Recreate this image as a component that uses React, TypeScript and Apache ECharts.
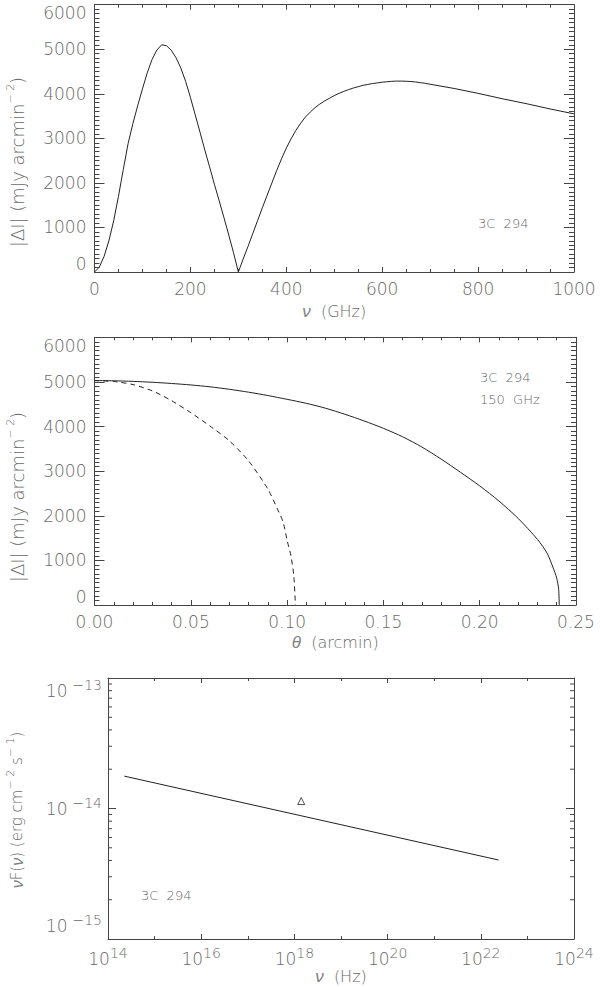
import React, { useEffect, useRef } from "react";
import * as echarts from "echarts";

// ---- Panel 1: |ΔI| vs ν (GHz) ----
const nuGHz = [0,10,20,30,40,50,60,70,80,90,100,110,120,130,140,150,160,170,180,190,200,210,220,230,240,250,260,270,280,290,300,310,320,330,340,350,360,370,380,390,400,410,420,430,440,450,460,470,480,490,500,510,520,530,540,550,560,570,580,590,600,610,620,630,640,650,660,670,680,690,700,750,800,850,900,950,1000];
const dINu = [0,110,350,700,1150,1700,2300,2880,3330,3730,4110,4470,4770,4980,5100,5080,4980,4810,4580,4280,3920,3530,3140,2740,2360,1970,1600,1220,830,430,0,290,570,860,1150,1440,1720,2000,2280,2540,2780,2990,3180,3340,3480,3590,3690,3770,3840,3900,3960,4010,4055,4095,4130,4160,4190,4210,4230,4245,4260,4270,4280,4285,4285,4282,4275,4265,4250,4235,4215,4120,4010,3890,3780,3660,3550];

// ---- Panel 2: |ΔI| vs θ (arcmin) at 150 GHz ----
const thetaSolid = [0,0.01,0.02,0.03,0.04,0.05,0.06,0.07,0.08,0.09,0.10,0.11,0.12,0.13,0.14,0.15,0.16,0.17,0.18,0.19,0.20,0.21,0.22,0.23,0.235,0.238,0.240,0.241,0.2413];
const dISolid = [5030,5025,5012,4992,4965,4932,4890,4835,4770,4695,4610,4520,4410,4275,4125,3960,3770,3540,3270,2975,2670,2330,1940,1470,1160,850,600,350,0];
const thetaDashed = [0,0.01,0.02,0.03,0.04,0.05,0.06,0.07,0.08,0.09,0.095,0.098,0.10,0.102,0.1035,0.1043];
const dIDashed = [5030,5010,4940,4800,4580,4310,4010,3680,3230,2600,2150,1850,1450,1100,650,0];

// ---- Panel 3: νF(ν) vs ν (Hz), log-log ----
const sedNu = [2.24e14, 2.4e22];
const sedFlux = [1.77e-14, 4.03e-15];
const xrayNu = [1.4e18];
const xrayFlux = [1.14e-14];

const xDecades = [14, 24];
const yDecades = [-15, -13];

const TXT = "#686868";
const AX = "#444";
const LN = "#222";
const FONT = "DejaVu Sans";
const IFONT = "Liberation Sans";

const lab = { color: TXT, fontFamily: FONT, fontSize: 17, fontWeight: 200 as any };

function linAxis(grid: number, pos: string, min: number, max: number, interval: number, minorSplit: number, majorLen: number, minorLen: number, showLabel: boolean, fmt?: (v: number) => string, extra: any = {}) {
  return {
    gridIndex: grid,
    type: "value",
    position: pos,
    min,
    max,
    interval,
    axisLine: { show: true, onZero: false, lineStyle: { color: AX, width: 1 } },
    axisTick: { show: true, inside: true, length: majorLen, lineStyle: { color: AX, width: 1 } },
    minorTick: { show: minorSplit > 1, splitNumber: minorSplit, length: minorLen, lineStyle: { color: AX, width: 1 } },
    splitLine: { show: false },
    minorSplitLine: { show: false },
    axisLabel: { show: showLabel, ...lab, formatter: fmt, showMinLabel: true, showMaxLabel: true },
    ...extra,
  };
}

const supRich = {
  b: { fontSize: 17, lineHeight: 26, fontFamily: FONT, color: TXT, fontWeight: 200 },
  s: { fontSize: 14, lineHeight: 14, fontFamily: FONT, color: TXT, fontWeight: 200, verticalAlign: "top" },
  sy: { fontSize: 14, lineHeight: 14, fontFamily: FONT, color: TXT, fontWeight: 200, verticalAlign: "top", padding: [0, 0, 0, 5] },
};
const nameRich = (fs: number) => ({
  n: { fontSize: fs, lineHeight: 24, fontFamily: FONT, fill: TXT, color: TXT, fontWeight: 200 },
  i: { fontSize: fs + 1, lineHeight: 24, fontFamily: IFONT, fill: "#808080", color: "#808080", fontStyle: "italic", fontWeight: "normal" },
  s: { fontSize: 11, lineHeight: 11, fontFamily: FONT, fill: TXT, color: TXT, fontWeight: 200, verticalAlign: "top" },
});

function vTitle(text: string, x: number, y: number, fs: number) {
  return {
    type: "text",
    x,
    y,
    rotation: Math.PI / 2,
    style: { text, rich: nameRich(fs), align: "center", verticalAlign: "middle", textAlign: "center", textVerticalAlign: "middle", fill: TXT },
  };
}

export default function App() {
  const ref = useRef<HTMLDivElement>(null);
  useEffect(() => {
    if (!ref.current) return;
    const chart = echarts.init(ref.current, undefined, { renderer: "svg" });

    const minorLogTicks: number[][] = [];
    for (let d = yDecades[0]; d < yDecades[1]; d++) {
      for (let k = 2; k <= 9; k++) minorLogTicks.push([xDecades[0], d + Math.log10(k)]);
    }

    const yTitle = "{n|\u007C\u0394I\u007C (mJy arcmin}{s|\u2212 2}{n|)}";
    const sedTitle = "{i|ν}{n|F(}{i|ν}{n|) (erg cm}{s|\u2212 2}{n| s}{s|\u2212 1}{n|)}";

    const option: any = {
      animation: false,
      backgroundColor: "#fff",
      grid: [
        { left: 94.5, top: 4.7, width: 479.5, height: 267.3 },
        { left: 94.5, top: 337.3, width: 481.5, height: 267.7 },
        { left: 108, top: 678, width: 466, height: 261 },
      ],
      xAxis: [
        linAxis(0, "bottom", 0, 1000, 200, 4, 5, 3, true, (v) => String(v), {
          name: "{i|ν}{n|  (GHz)}", nameLocation: "middle", nameGap: 27,
          nameTextStyle: { rich: nameRich(16) },
        }),
        linAxis(0, "top", 0, 1000, 200, 4, 5, 3, false),
        linAxis(1, "bottom", 0, 0.25, 0.05, 5, 5, 3, true, (v) => v.toFixed(2), {
          name: "{i|θ}{n|  (arcmin)}", nameLocation: "middle", nameGap: 25,
          nameTextStyle: { rich: nameRich(16) },
        }),
        linAxis(1, "top", 0, 0.25, 0.05, 5, 5, 3, false),
        linAxis(2, "bottom", 14, 24, 2, 2, 5, 3, true, (v) => `{b|10}{s|${v}}`, {
          name: "{i|ν}{n|  (Hz)}", nameLocation: "middle", nameGap: 25,
          nameTextStyle: { rich: nameRich(16) },
        }),
        linAxis(2, "top", 14, 24, 2, 2, 5, 3, false),
      ],
      yAxis: [
        linAxis(0, "left", 0, 6000, 1000, 10, 10, 5, true, (v) => String(v)),
        linAxis(0, "right", 0, 6000, 1000, 10, 10, 5, false),
        linAxis(1, "left", 0, 6000, 1000, 10, 10, 5, true, (v) => String(v)),
        linAxis(1, "right", 0, 6000, 1000, 10, 10, 5, false),
        linAxis(2, "left", -15, -13, 1, 1, 8, 4, true),
        linAxis(2, "right", -15, -13, 1, 1, 8, 4, false),
      ],
      series: [
        {
          type: "line", xAxisIndex: 0, yAxisIndex: 0, showSymbol: false, smooth: false,
          lineStyle: { color: LN, width: 1 },
          data: nuGHz.map((x, i) => [x, dINu[i]]),
        },
        {
          type: "line", xAxisIndex: 2, yAxisIndex: 2, showSymbol: false, smooth: 0.25,
          lineStyle: { color: LN, width: 1 },
          data: thetaSolid.map((x, i) => [x, dISolid[i]]),
        },
        {
          type: "line", xAxisIndex: 2, yAxisIndex: 2, showSymbol: false, smooth: 0.25,
          lineStyle: { color: LN, width: 1, type: [5, 4] },
          data: thetaDashed.map((x, i) => [x, dIDashed[i]]),
        },
        {
          type: "line", xAxisIndex: 4, yAxisIndex: 4, showSymbol: false,
          lineStyle: { color: LN, width: 1 },
          data: sedNu.map((x, i) => [Math.log10(x), Math.log10(sedFlux[i])]),
        },
        {
          type: "scatter", xAxisIndex: 4, yAxisIndex: 4, symbol: "triangle", symbolSize: 7,
          itemStyle: { color: "#fff", borderColor: LN, borderWidth: 1 },
          data: xrayNu.map((x, i) => [Math.log10(x), Math.log10(xrayFlux[i])]),
        },
        {
          type: "custom", xAxisIndex: 4, yAxisIndex: 4, silent: true, clip: false,
          data: minorLogTicks,
          renderItem: (params: any, api: any) => {
            const y = api.value(1);
            const l = api.coord([xDecades[0], y]);
            const r = api.coord([xDecades[1], y]);
            return {
              type: "group",
              children: [
                { type: "line", shape: { x1: l[0], y1: l[1], x2: l[0] + 4, y2: l[1] }, style: { stroke: AX, lineWidth: 1 } },
                { type: "line", shape: { x1: r[0], y1: r[1], x2: r[0] - 4, y2: r[1] }, style: { stroke: AX, lineWidth: 1 } },
              ],
            };
          },
        },
      ],
      graphic: [
        vTitle(yTitle, 17, 162, 18),
        vTitle(yTitle, 17, 497, 18),
        vTitle(sedTitle, 17, 810, 15),
        { type: "text", left: 478, top: 217, style: { text: "3C  294", fill: TXT, font: `200 13px ${FONT}` } },
        { type: "text", left: 480, top: 371, style: { text: "3C  294", fill: TXT, font: `200 13px ${FONT}` } },
        { type: "text", left: 480, top: 393, style: { text: "150  GHz", fill: TXT, font: `200 13px ${FONT}` } },
        { type: "text", left: 141, top: 889, style: { text: "3C  294", fill: TXT, font: `200 13px ${FONT}` } },
      ],
    };
    option.xAxis[4].axisLabel = { show: true, formatter: (v: number) => `{b|10}{s|${v}}`, rich: supRich, margin: 7, showMinLabel: true, showMaxLabel: true };
    option.yAxis[4].axisLabel = { show: true, formatter: (v: number) => `{b|10}{sy|\u2212${Math.abs(v)}}`, rich: supRich, margin: 6, verticalAlignMinLabel: "bottom", verticalAlignMaxLabel: "top", showMinLabel: true, showMaxLabel: true };
    option.yAxis[0].axisLabel = { ...option.yAxis[0].axisLabel, margin: 8, verticalAlignMinLabel: "bottom", verticalAlignMaxLabel: "top" };
    option.yAxis[2].axisLabel = { ...option.yAxis[2].axisLabel, margin: 8, verticalAlignMinLabel: "bottom", verticalAlignMaxLabel: "top" };
    option.xAxis[0].axisLabel.margin = 8;
    option.xAxis[2].axisLabel.margin = 8;

    chart.setOption(option);
    return () => chart.dispose();
  }, []);
  return <div ref={ref} style={{ position: "absolute", left: 0, top: 0, width: 600, height: 987 }} />;
}
